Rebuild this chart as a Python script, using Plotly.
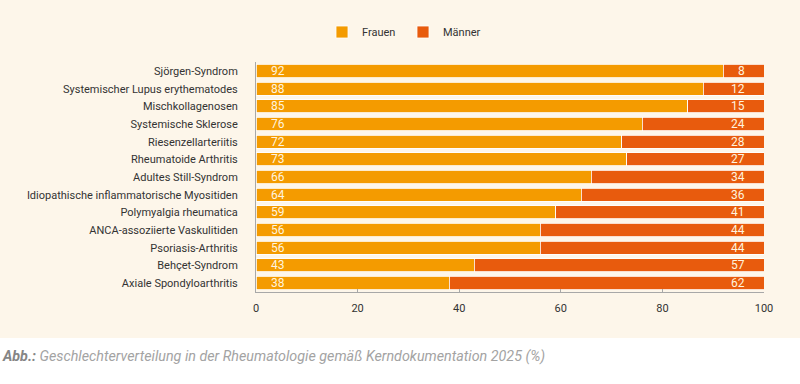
import plotly.graph_objects as go

categories = [
    "Sjörgen-Syndrom",
    "Systemischer Lupus erythematodes",
    "Mischkollagenosen",
    "Systemische Sklerose",
    "Riesenzellarteriitis",
    "Rheumatoide Arthritis",
    "Adultes Still-Syndrom",
    "Idiopathische inflammatorische Myositiden",
    "Polymyalgia rheumatica",
    "ANCA-assoziierte Vaskulitiden",
    "Psoriasis-Arthritis",
    "Behçet-Syndrom",
    "Axiale Spondyloarthritis",
]
frauen = [92, 88, 85, 76, 72, 73, 66, 64, 59, 56, 56, 43, 38]
maenner = [8, 12, 15, 24, 28, 27, 34, 36, 41, 44, 44, 57, 62]
x_ticks = [0, 20, 40, 60, 80, 100]

C_F = "#F49B00"
C_M = "#E85B0D"
CREAM = "#FDF6EA"
FONT = "Roboto"

PT, PB, PL, PR = 62, 92, 256, 36
PH = 384 - PT - PB
PW = 800 - PL - PR
def py(pix):
    return (384 - PB - pix) / PH
def px(pix):
    return (pix - PL) / PW

fig = go.Figure()
fig.add_trace(go.Bar(
    y=categories, x=frauen, name="Frauen", orientation="h",
    marker=dict(color=C_F, line=dict(color="white", width=0.8)),
    hoverinfo="skip",
))
fig.add_trace(go.Bar(
    y=categories, x=maenner, name="Männer", orientation="h",
    marker=dict(color=C_M, line=dict(color="white", width=0.8)),
    hoverinfo="skip",
))

annotations = []
for cat, f, m in zip(categories, frauen, maenner):
    annotations.append(dict(x=0, y=cat, xref="x", yref="y", text=str(f),
                            showarrow=False, xanchor="left", xshift=13,
                            font=dict(family=FONT, size=12, color="#FFF3DF")))
    annotations.append(dict(x=100, y=cat, xref="x", yref="y", text=str(m),
                            showarrow=False, xanchor="right", xshift=-17,
                            font=dict(family=FONT, size=12, color="#FFF3DF")))

annotations.append(dict(
    x=px(0), y=py(356), xref="paper", yref="paper", showarrow=False,
    text="<b>Abb.:</b> <span style='color:#a3a3a3'>Geschlechterverteilung in der Rheumatologie gemäß Kerndokumentation 2025 (%)</span>",
    font=dict(family=FONT, size=14.3, color="#858585", style="italic"),
    xanchor="left", yanchor="middle",
))

fig.update_layout(
    width=800, height=384,
    barmode="stack", bargap=0.26,
    paper_bgcolor=CREAM, plot_bgcolor=CREAM,
    margin=dict(l=PL, r=PR, t=PT, b=PB, pad=0),
    font=dict(family=FONT, size=11, color="#333333"),
    showlegend=True,
    legend=dict(orientation="h", x=px(322), xanchor="left", y=py(32), yanchor="middle",
                font=dict(family=FONT, size=11, color="#333333"),
                bgcolor="rgba(0,0,0,0)", entrywidth=36, entrywidthmode="pixels",
                traceorder="normal"),
    xaxis=dict(range=[0, 100], tickvals=x_ticks, showgrid=False, zeroline=False,
               showline=True, linecolor="#a8a8a8", linewidth=1,
               ticks="inside", ticklen=3, tickcolor="#a8a8a8",
               ticklabelstandoff=6,
               tickfont=dict(family=FONT, size=11, color="#333333"),
               fixedrange=True),
    yaxis=dict(categoryorder="array", categoryarray=categories, autorange="reversed",
               showgrid=False, zeroline=False, showline=True, linecolor="#a8a8a8",
               linewidth=1, ticks="", ticklabelstandoff=15,
               tickfont=dict(family=FONT, size=11, color="#333333"),
               fixedrange=True),
    annotations=annotations,
    shapes=[dict(type="rect", xref="paper", yref="paper", x0=px(-5), x1=px(805),
                 y0=py(390), y1=py(338), fillcolor="white", line=dict(width=0),
                 layer="below")],
)

fig.write_html("out.html", config={"displayModeBar": False},
               post_script="document.body.style.margin='0';document.body.style.overflow='hidden';")
